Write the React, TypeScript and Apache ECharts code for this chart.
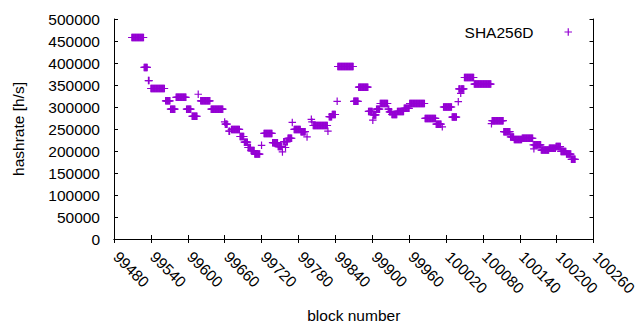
import React, { useEffect, useRef } from "react";
import * as echarts from "echarts";

// Hashrate per block, read from the picture as runs of equal values:
// [first block, last block, hashrate in h/s]
const hashrateRuns: [number, number, number][] = [
  [99509, 99528, 458000],
  [99529, 99534, 390000],
  [99536, 99537, 360000],
  [99540, 99562, 342000],
  [99564, 99571, 314000],
  [99572, 99579, 295000],
  [99581, 99597, 322000],
  [99598, 99605, 295000],
  [99607, 99615, 279000],
  [99617, 99617, 329000],
  [99621, 99636, 314000],
  [99638, 99657, 295000],
  [99660, 99660, 266000],
  [99661, 99664, 261000],
  [99667, 99668, 245000],
  [99671, 99684, 249000],
  [99685, 99691, 233000],
  [99692, 99697, 220000],
  [99698, 99702, 208000],
  [99703, 99708, 201000],
  [99709, 99717, 193000],
  [99720, 99720, 213000],
  [99724, 99737, 240000],
  [99738, 99746, 219000],
  [99747, 99753, 210000],
  [99754, 99754, 198000],
  [99756, 99758, 221000],
  [99759, 99759, 208000],
  [99760, 99762, 221000],
  [99763, 99769, 229000],
  [99770, 99770, 265000],
  [99773, 99783, 249000],
  [99784, 99791, 244000],
  [99794, 99794, 232000],
  [99801, 99801, 272000],
  [99802, 99802, 266000],
  [99804, 99827, 258000],
  [99828, 99828, 245000],
  [99830, 99834, 278000],
  [99835, 99840, 283000],
  [99843, 99843, 313000],
  [99844, 99869, 392000],
  [99870, 99877, 313000],
  [99878, 99893, 345000],
  [99894, 99900, 290000],
  [99901, 99901, 270000],
  [99902, 99906, 282000],
  [99907, 99912, 295000],
  [99913, 99925, 308000],
  [99926, 99927, 295000],
  [99928, 99931, 289000],
  [99932, 99940, 283000],
  [99941, 99951, 290000],
  [99952, 99960, 297000],
  [99961, 99985, 308000],
  [99986, 100003, 274000],
  [100004, 100012, 261000],
  [100014, 100014, 255000],
  [100016, 100029, 300000],
  [100030, 100037, 277000],
  [100040, 100040, 312000],
  [100041, 100043, 341000],
  [100044, 100044, 331000],
  [100045, 100049, 341000],
  [100050, 100065, 367000],
  [100066, 100093, 352000],
  [100094, 100094, 262000],
  [100095, 100113, 269000],
  [100114, 100124, 244000],
  [100125, 100130, 232000],
  [100131, 100143, 226000],
  [100144, 100161, 229000],
  [100162, 100162, 214000],
  [100163, 100163, 205000],
  [100164, 100174, 214000],
  [100175, 100187, 202000],
  [100188, 100198, 206000],
  [100199, 100206, 210000],
  [100207, 100215, 199000],
  [100216, 100223, 193000],
  [100224, 100230, 181000],
];

const seriesName = "SHA256D";
const xMin = 99480;
const xMax = 100260;
const xStep = 60;
const yMin = 0;
const yMax = 500000;
const yStep = 50000;

const PLUS = "path://M0,0.42H1V0.58H0Z M0.42,0H0.58V1H0.42Z";
const FONT = "Liberation Sans, Arial, sans-serif";
const PURPLE = "#9400d3";
const FS = 15.5;

function buildPoints(): [number, number][] {
  const pts: [number, number][] = [];
  for (const [a, b, v] of hashrateRuns) {
    for (let blk = a; blk <= b; blk++) pts.push([blk, v]);
  }
  return pts;
}

const plain = (v: number) => String(v);

export default function App() {
  const ref = useRef<HTMLDivElement>(null);

  useEffect(() => {
    document.body.style.margin = "0";
    if (!ref.current) return;
    const chart = echarts.init(ref.current, undefined, { renderer: "svg" });
    const axisLine = { show: true, lineStyle: { color: "#000", width: 1 } };
    const tick = { show: true, inside: true, length: 4, lineStyle: { color: "#000", width: 1 } };
    chart.setOption({
      animation: false,
      backgroundColor: "#fff",
      textStyle: { fontFamily: FONT },
      grid: { left: 114, right: 31, top: 19, bottom: 91 },
      legend: {
        data: [seriesName],
        right: 68,
        top: 24,
        padding: 0,
        align: "right",
        itemWidth: 7.5,
        itemHeight: 7.5,
        icon: PLUS,
        formatter: "{a|{name}}",
        textStyle: {
          fontSize: FS,
          color: "#000",
          fontFamily: FONT,
          rich: { a: { fontSize: FS, color: "#000", fontFamily: FONT, padding: [0, 26, 0, 0] } },
        },
      },
      xAxis: [
        {
          type: "value",
          min: xMin,
          max: xMax,
          interval: xStep,
          position: "bottom",
          axisLine,
          axisTick: tick,
          splitLine: { show: false },
          axisLabel: {
            rotate: -45,
            fontSize: FS,
            color: "#000",
            fontFamily: FONT,
            margin: 13,
            verticalAlign: "middle",
            padding: [0, 0, 0, 3],
            formatter: plain,
          },
          name: "block number",
          nameLocation: "middle",
          nameGap: 68,
          nameTextStyle: { fontSize: FS, color: "#000", fontFamily: FONT },
        },
        {
          type: "value",
          min: xMin,
          max: xMax,
          interval: xStep,
          position: "top",
          axisLine,
          axisTick: tick,
          splitLine: { show: false },
          axisLabel: { show: false },
        },
      ],
      yAxis: [
        {
          type: "value",
          min: yMin,
          max: yMax,
          interval: yStep,
          position: "left",
          axisLine,
          axisTick: tick,
          splitLine: { show: false },
          axisLabel: { fontSize: FS, color: "#000", fontFamily: FONT, margin: 14, formatter: plain },
          name: "hashrate [h/s]",
          nameLocation: "middle",
          nameGap: 88,
          nameTextStyle: { fontSize: FS, color: "#000", fontFamily: FONT },
        },
        {
          type: "value",
          min: yMin,
          max: yMax,
          interval: yStep,
          position: "right",
          axisLine,
          axisTick: tick,
          splitLine: { show: false },
          axisLabel: { show: false },
        },
      ],
      series: [
        {
          name: seriesName,
          type: "scatter",
          xAxisIndex: 0,
          yAxisIndex: 0,
          symbol: PLUS,
          symbolSize: 7.5,
          itemStyle: { color: PURPLE, opacity: 1 },
          data: buildPoints(),
        },
      ],
    });
    return () => chart.dispose();
  }, []);

  return <div ref={ref} style={{ width: 640, height: 330 }} />;
}
